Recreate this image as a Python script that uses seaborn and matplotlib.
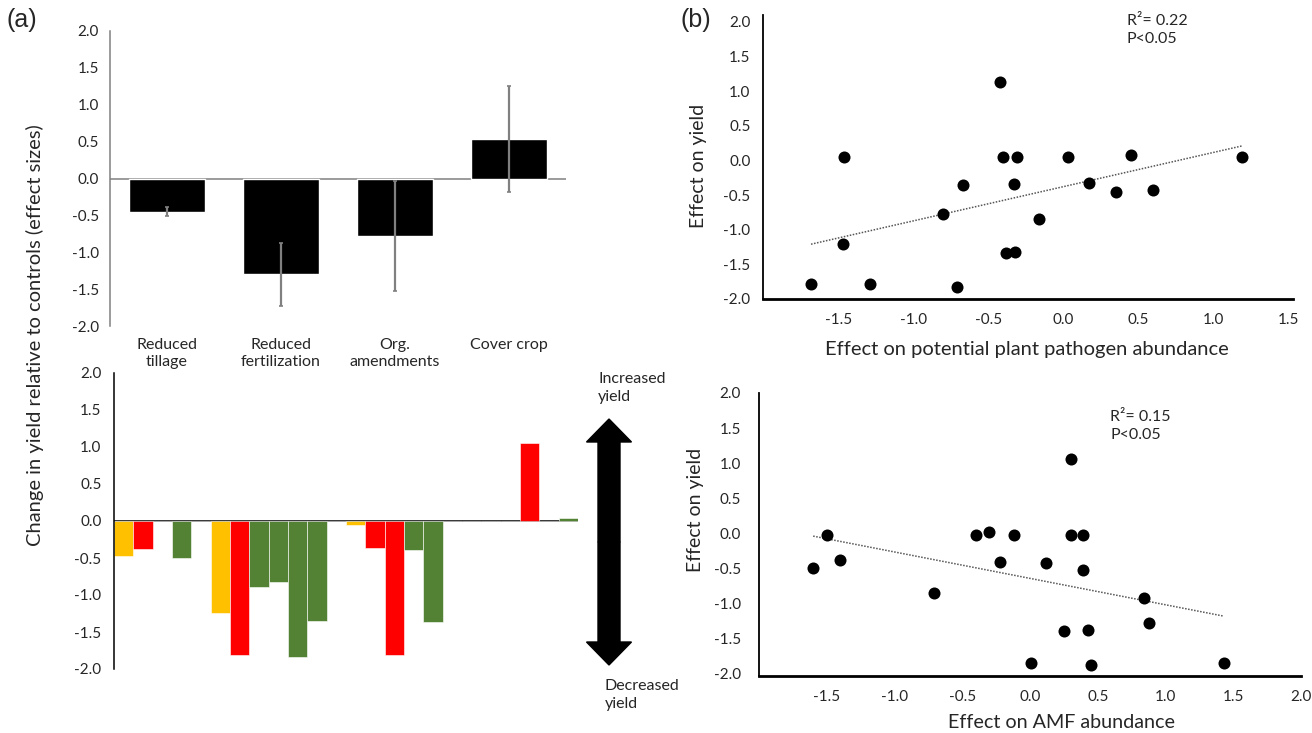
import numpy as np
import pandas as pd
import matplotlib
matplotlib.use("Agg")
import matplotlib.pyplot as plt
import seaborn as sns
from matplotlib.patches import FancyArrow
from matplotlib.ticker import FormatStrFormatter

# ---------------- data ----------------
practices = ["Reduced\ntillage", "Reduced\nfertilization", "Org.\namendments", "Cover crop"]
mean_effect = [-0.45, -1.30, -0.78, 0.54]
ci_half = [0.06, 0.43, 0.74, 0.72]

study_effect = [-0.47, -0.38, 0.0, -0.50, 0.0, -1.24, -1.81, -0.89, -0.82, -1.84, -1.35, 0.0,
                -0.05, -0.36, -1.81, -0.39, -1.36, 0.0, 0.0, 0.0, 0.0, 1.05, 0.0, 0.04]
study_kind = ["Y", "R", "-", "G", "-", "Y", "R", "G", "G", "G", "G", "-",
              "Y", "R", "R", "G", "G", "-", "-", "-", "-", "R", "-", "G"]

path_x = [-0.42, -1.46, -0.40, -0.31, 0.03, 0.45, 1.19, -0.67, -0.33, 0.17,
          0.35, 0.60, -0.80, -0.16, -1.47, -0.38, -0.32, -1.68, -1.29, -0.71]
path_y = [1.13, 0.05, 0.05, 0.05, 0.05, 0.08, 0.05, -0.35, -0.34, -0.32,
          -0.46, -0.42, -0.78, -0.85, -1.21, -1.34, -1.32, -1.78, -1.79, -1.83]

amf_x = [-1.60, -1.50, -1.40, -0.71, -0.40, -0.30, -0.22, -0.12, 0.01, 0.12,
         0.25, 0.30, 0.30, 0.39, 0.39, 0.43, 0.45, 0.84, 0.88, 1.43]
amf_y = [-0.49, -0.02, -0.38, -0.85, -0.02, 0.02, -0.41, -0.02, -1.84, -0.42,
         -1.39, -0.02, 1.06, -0.02, -0.52, -1.38, -1.88, -0.92, -1.28, -1.84]

yticks = [-2.0, -1.5, -1.0, -0.5, 0.0, 0.5, 1.0, 1.5, 2.0]
path_xticks = [-1.5, -1.0, -0.5, 0.0, 0.5, 1.0, 1.5]
amf_xticks = [-1.5, -1.0, -0.5, 0.0, 0.5, 1.0, 1.5, 2.0]

kind_colors = {"Y": "#FFC000", "R": "#FF0000", "G": "#548235", "-": "#FFFFFF"}

# ---------------- style ----------------
sns.set_theme(style="white")
plt.rcParams["font.family"] = ["Lato", "DejaVu Sans"]
plt.rcParams["axes.unicode_minus"] = False

W, H = 1312, 733
fig = plt.figure(figsize=(W / 100, H / 100), dpi=100)


def px_axes(l, t, r, b):
    return fig.add_axes([l / W, 1 - b / H, (r - l) / W, (b - t) / H])


ax1 = px_axes(110, 31, 566, 326)
ax2 = px_axes(114, 373, 578, 669)
ax3 = px_axes(763, 15, 1293, 299)
ax4 = px_axes(759, 393, 1301, 676)

TICK_FS = 11

# ---- (a) top: mean effect bars ----
sns.barplot(x=practices, y=mean_effect, color="black", saturation=1, width=0.672,
            errorbar=None, ax=ax1)
ax1.errorbar(x=np.arange(len(practices)), y=mean_effect, yerr=ci_half, fmt="none",
             ecolor="#808080", elinewidth=1.6, capsize=1.5, capthick=1.2)
ax1.axhline(0, color="#808080", lw=1.1, zorder=0.5)
ax1.set_xlim(-0.5, 3.5)
ax1.set_ylim(-2, 2)
ax1.set_yticks(yticks)
ax1.yaxis.set_major_formatter(FormatStrFormatter("%.1f"))
ax1.tick_params(axis="x", length=0, pad=9, labelsize=11.5)
ax1.tick_params(axis="y", length=0, pad=8, labelsize=TICK_FS)
for t in ax1.get_xticklabels():
    t.set_linespacing(1.2)
ax1.set_xlabel("")
for s in ["top", "right", "bottom"]:
    ax1.spines[s].set_visible(False)
ax1.spines["left"].set_color("#808080")
ax1.spines["left"].set_linewidth(1.1)

# ---- (a) bottom: individual study bars ----
df = pd.DataFrame({"slot": np.arange(len(study_effect)), "effect": study_effect, "kind": study_kind})
sns.barplot(data=df, x="slot", y="effect", hue="kind", palette=kind_colors, dodge=False,
            saturation=1, width=1.0, errorbar=None, legend=False, edgecolor="white",
            linewidth=0.4, ax=ax2)
ax2.axhline(0, color="black", lw=1.1, zorder=0.5)
ax2.set_xlim(-0.5, len(study_effect) - 0.5)
ax2.set_ylim(-2, 2)
ax2.set_yticks(yticks)
ax2.yaxis.set_major_formatter(FormatStrFormatter("%.1f"))
ax2.set_xticks([])
ax2.set_xlabel("")
ax2.set_ylabel("")
ax2.tick_params(axis="y", length=0, pad=9, labelsize=TICK_FS)
for s in ["top", "right", "bottom"]:
    ax2.spines[s].set_visible(False)
ax2.spines["left"].set_color("black")
ax2.spines["left"].set_linewidth(1.1)

# ---- (b) scatters ----
def scatter_panel(ax, xs, ys, xticks, xlim, ylim, ypad, r2, txt_xy):
    sns.scatterplot(x=xs, y=ys, color="black", s=75, edgecolor="black", linewidth=0, ax=ax, zorder=3)
    sns.regplot(x=np.array(xs), y=np.array(ys), scatter=False, ci=None, ax=ax,
                line_kws=dict(color="#555555", lw=1.1, ls=(0, (1, 1))))
    ax.set_xlim(*xlim)
    ax.set_ylim(*ylim)
    ax.set_xticks(xticks)
    ax.set_yticks(yticks)
    ax.xaxis.set_major_formatter(FormatStrFormatter("%.1f"))
    ax.yaxis.set_major_formatter(FormatStrFormatter("%.1f"))
    ax.tick_params(axis="both", length=0, labelsize=TICK_FS)
    ax.tick_params(axis="x", pad=10)
    ax.tick_params(axis="y", pad=ypad)
    for s in ["top", "right"]:
        ax.spines[s].set_visible(False)
    ax.spines["left"].set_color("black")
    ax.spines["left"].set_linewidth(1.3)
    ax.spines["bottom"].set_color("black")
    ax.spines["bottom"].set_linewidth(2.0)
    ax.set_xlabel("")
    ax.set_ylabel("")
    fig.text(txt_xy[0] / W, 1 - txt_xy[1] / H, f"R\u00b2= {r2}\nP<0.05", fontsize=11.5,
             va="center", ha="left", linespacing=1.45)


scatter_panel(ax3, path_x, path_y, path_xticks, (-2.0, 1.53), (-1.97, 2.1), 9, "0.22", (1127, 30))
scatter_panel(ax4, amf_x, amf_y, amf_xticks, (-2.0, 2.0), (-2.03, 2.0), 13, "0.15", (1110, 426))

fig.text(1027 / W, 1 - 350 / H, "Effect on potential plant pathogen abundance",
         ha="center", va="center", fontsize=14.5)
fig.text(1061 / W, 1 - 728 / H, "Effect on AMF abundance",
         ha="center", va="baseline", fontsize=14.2)
fig.text(699 / W, 1 - 166 / H, "Effect on yield", rotation=90, ha="center", va="center", fontsize=14)
fig.text(696 / W, 1 - 510 / H, "Effect on yield", rotation=90, ha="center", va="center", fontsize=14)

# ---- annotations ----
fig.text(35 / W, 1 - 335 / H, "Change in yield relative to controls (effect sizes)",
         rotation=90, ha="center", va="center", fontsize=14.5)
fig.text(7 / W, 1 - 20 / H, "(a)", fontsize=18, ha="left", va="center", family="Liberation Sans")
fig.text(680 / W, 1 - 20 / H, "(b)", fontsize=18, ha="left", va="center", family="Liberation Sans")

cx = 609 / W
mid = 1 - 542 / H
shaft_w = 22 / W
head_w = 45 / W
head_l = 23 / H
length = (542 - 419) / H
for sgn in (1, -1):
    fig.patches.append(FancyArrow(cx, mid, 0, sgn * length, width=shaft_w, head_width=head_w,
                                  head_length=head_l, length_includes_head=True,
                                  color="black", transform=fig.transFigure, figure=fig))

fig.text(598 / W, 1 - 388 / H, "Increased\nyield", fontsize=11.5, ha="left", va="center", linespacing=1.3)
fig.text(605 / W, 1 - 695 / H, "Decreased\nyield", fontsize=11.5, ha="left", va="center", linespacing=1.3)

fig.savefig("out.png", dpi=100)
